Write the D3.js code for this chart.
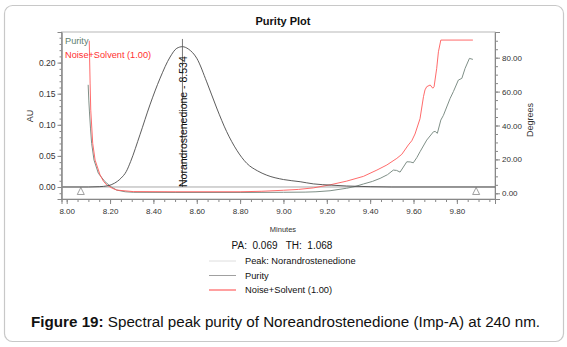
<!DOCTYPE html>
<html><head><meta charset="utf-8">
<script src="https://cdn.jsdelivr.net/npm/d3@7"></script>
<style>body{margin:0;background:#fff;} text{font-family:"Liberation Sans",Arial,sans-serif;}</style>
</head><body>
<svg id="c" width="567" height="347"></svg>
<script>
// ---- data ----
const chromTime = [7.98, 8.10, 8.15, 8.19, 8.22, 8.25, 8.275, 8.295, 8.338, 8.384, 8.431, 8.477, 8.508, 8.534, 8.561, 8.60, 8.646, 8.692, 8.738, 8.785, 8.831, 8.88, 8.923, 9.00, 9.077, 9.138, 9.22, 9.292, 9.40, 9.50, 9.976];
const chromAU   = [0, 0, 0.0005, 0.002, 0.006, 0.014, 0.025, 0.041, 0.084, 0.132, 0.175, 0.209, 0.223, 0.2256, 0.2219, 0.207, 0.169, 0.127, 0.089, 0.059, 0.038, 0.026, 0.019, 0.012, 0.0085, 0.005, 0.003, 0.0016, 0.0005, 0, 0];
const purityTime = [8.099, 8.102, 8.105, 8.110, 8.115, 8.126, 8.146, 8.177, 8.205, 8.231, 8.27, 8.307, 8.5, 8.8, 9.0, 9.10, 9.15, 9.215, 9.292, 9.33, 9.369, 9.41, 9.446, 9.48, 9.507, 9.522, 9.538, 9.569, 9.585, 9.599, 9.615, 9.630, 9.661, 9.692, 9.700, 9.710, 9.726, 9.738, 9.769, 9.784, 9.807, 9.823, 9.838, 9.858, 9.874];
const purityDeg  = [64, 55, 48, 38, 29.5, 19.6, 11.8, 6.8, 3.8, 1.9, 0.9, 0.6, 0.5, 0.5, 0.6, 0.7, 0.9, 1.5, 3.0, 4.0, 5.5, 7.0, 8.8, 11, 13.7, 13.5, 12.5, 18.6, 18.5, 18.0, 21, 24.5, 31.4, 36.3, 36.5, 35.4, 43.2, 46, 56, 60, 66.8, 67.8, 73.7, 79.6, 79];
const noiseTime = [8.104, 8.108, 8.111, 8.120, 8.131, 8.154, 8.17, 8.185, 8.21, 8.231, 8.307, 8.5, 8.8, 8.9, 9.0, 9.07, 9.138, 9.215, 9.292, 9.369, 9.431, 9.477, 9.523, 9.546, 9.576, 9.592, 9.607, 9.630, 9.646, 9.653, 9.661, 9.677, 9.689, 9.695, 9.707, 9.715, 9.726, 9.874];
const noiseDeg  = [90, 65, 49, 29.5, 19.6, 10.8, 7, 4.9, 3, 1.9, 1.0, 0.9, 0.9, 1.2, 1.8, 2.3, 3.2, 5.0, 7.2, 10, 13.7, 16.7, 20.6, 23, 28.5, 31, 35, 44, 57, 61, 62.9, 63.9, 62, 62.9, 73.7, 83.5, 90.4, 90.4];
const xTicks = [8.00, 8.20, 8.40, 8.60, 8.80, 9.00, 9.20, 9.40, 9.60, 9.80];
const auTicks = [0.00, 0.05, 0.10, 0.15, 0.20];
const degTicks = [0, 20, 40, 60, 80];
const markerTimes = [8.065, 9.889];
const peakTime = 8.534;
const peakLabel = "Norandrostenedione - 8.534";
const legendNames = ["Peak: Norandrostenedione", "Purity", "Noise+Solvent (1.00)"];
const statsText = "PA:  0.069   TH:  1.068";

// ---- layout ----
const svg = d3.select("#c");
const L = 61.5, R = 495, T = 32, B = 199;
const x = d3.scaleLinear().domain([7.976, 9.976]).range([L, R]);
const yA = d3.scaleLinear().domain([-0.0193, 0.2492]).range([B, T]);
const yD = d3.scaleLinear().domain([-3.36, 95.16]).range([B, T]);

svg.append("rect").attr("x",4.5).attr("y",5.5).attr("width",559).attr("height",336)
  .attr("rx",8).attr("fill","#fff").attr("stroke","#c8c8c8").attr("stroke-width",1.2);

svg.append("text").attr("x",283).attr("y",25).attr("text-anchor","middle")
  .attr("font-size",11).attr("font-weight","bold").attr("fill","#111").text("Purity Plot");

// frame
svg.append("rect").attr("x",L).attr("y",T).attr("width",R-L).attr("height",B-T)
  .attr("fill","none").attr("stroke","#b8b8b8").attr("stroke-width",1);

// axes
const axCol = "#888";
function styleAxis(g){ g.select(".domain").attr("stroke",axCol); g.selectAll("line").attr("stroke",axCol); g.selectAll("text").attr("fill","#333"); }

const gx = svg.append("g").attr("transform",`translate(0,${B})`);
gx.call(d3.axisBottom(x).tickValues(d3.range(8.0, 9.96, 0.05)).tickSize(3).tickFormat("")).call(styleAxis);
const gx2 = svg.append("g").attr("transform",`translate(0,${B})`);
gx2.call(d3.axisBottom(x).tickValues(xTicks).tickSize(5).tickPadding(4).tickFormat(d3.format(".2f"))).call(styleAxis);
gx2.selectAll("text").attr("font-size",8);

const gyl = svg.append("g").attr("transform",`translate(${L},0)`);
gyl.call(d3.axisLeft(yA).tickValues(d3.range(-0.01, 0.245, 0.01)).tickSize(2).tickFormat("")).call(styleAxis);
const gyl2 = svg.append("g").attr("transform",`translate(${L},0)`);
gyl2.call(d3.axisLeft(yA).tickValues(auTicks).tickSize(4).tickPadding(2).tickFormat(d3.format(".2f"))).call(styleAxis);
gyl2.selectAll("text").attr("font-size",8.5);

const gyr = svg.append("g").attr("transform",`translate(${R},0)`);
gyr.call(d3.axisRight(yD).tickValues(d3.range(0, 95, 5)).tickSize(3).tickFormat("")).call(styleAxis);
const gyr2 = svg.append("g").attr("transform",`translate(${R},0)`);
gyr2.call(d3.axisRight(yD).tickValues(degTicks).tickSize(5).tickPadding(2).tickFormat(d3.format(".2f"))).call(styleAxis);
gyr2.selectAll("text").attr("font-size",8);

svg.append("text").attr("transform","translate(33,116) rotate(-90)").attr("text-anchor","middle")
  .attr("font-size",9).attr("fill","#333").text("AU");
svg.append("text").attr("transform","translate(533,120) rotate(-90)").attr("text-anchor","middle")
  .attr("font-size",9).attr("fill","#333").text("Degrees");
svg.append("text").attr("x",283).attr("y",232).attr("text-anchor","middle")
  .attr("font-size",7.5).attr("fill","#333").text("Minutes");

// clip
svg.append("clipPath").attr("id","clp").append("rect").attr("x",L).attr("y",T).attr("width",R-L).attr("height",B-T);
const plot = svg.append("g").attr("clip-path","url(#clp)");

// baseline
plot.append("line").attr("x1",L).attr("x2",R).attr("y1",yA(0)).attr("y2",yA(0))
  .attr("stroke","#a8a8a8").attr("stroke-width",1);

// markers
plot.selectAll("path.tri").data(markerTimes).enter().append("path")
  .attr("d", d => { const cx = x(d), y0 = yA(0)+0.5; return `M${cx},${y0} L${cx-3.5},${y0+7} L${cx+3.5},${y0+7} Z`; })
  .attr("fill","none").attr("stroke","#888").attr("stroke-width",0.8);

const line = (xs, ys, sy, cv) => d3.line().curve(cv || d3.curveLinear).x((d,i)=>x(xs[i])).y((d,i)=>sy(ys[i]))(xs);

plot.append("path").attr("d", line(purityTime, purityDeg, yD)).attr("fill","none")
  .attr("stroke","#7f8f87").attr("stroke-width",1);
plot.append("path").attr("d", line(noiseTime, noiseDeg, yD)).attr("fill","none")
  .attr("stroke","#ff5a5a").attr("stroke-width",0.9);
plot.append("path").attr("d", line(chromTime, chromAU, yA, d3.curveMonotoneX)).attr("fill","none")
  .attr("stroke","#4a4a4a").attr("stroke-width",0.9);

// peak marker line + label
plot.append("line").attr("x1",x(peakTime)).attr("x2",x(peakTime)).attr("y1",yA(0)).attr("y2",yA(0.238))
  .attr("stroke","#555").attr("stroke-width",0.8);
plot.append("text").attr("transform",`translate(${x(peakTime)+4.5},${yA(0)}) rotate(-90)`)
  .attr("font-size",10.5).attr("fill","#111").text(peakLabel);

// in-plot legend
svg.append("text").attr("x",65).attr("y",43.5).attr("font-size",9.2).attr("fill","#5f7f6f").text("Purity");
svg.append("text").attr("x",65).attr("y",57.5).attr("font-size",9.2).attr("fill","#ff3030").text("Noise+Solvent (1.00)");

// stats
svg.append("text").attr("x",282).attr("y",249).attr("text-anchor","middle").style("white-space","pre")
  .attr("font-size",10).attr("fill","#111").text(statsText);

// bottom legend
const legCols = ["#dedede", "#a0a0a0", "#ffa0a0"];
const legW = [1, 1, 2];
const lg = svg.append("g");
legendNames.forEach((n,i) => {
  const yy = 261 + i*14.5;
  lg.append("line").attr("x1",209).attr("x2",236).attr("y1",yy).attr("y2",yy)
    .attr("stroke",legCols[i]).attr("stroke-width",legW[i]);
  lg.append("text").attr("x",245).attr("y",yy+3.3).attr("font-size",9.3).attr("fill","#111").text(n);
});

// caption
const cap = svg.append("text").attr("x",31).attr("y",327).attr("font-size",15.2).attr("fill","#111");
cap.append("tspan").attr("font-weight","bold").text("Figure 19:");
cap.append("tspan").text(" Spectral peak purity of Noreandrostenedione (Imp-A) at 240 nm.");
</script>
</body></html>
